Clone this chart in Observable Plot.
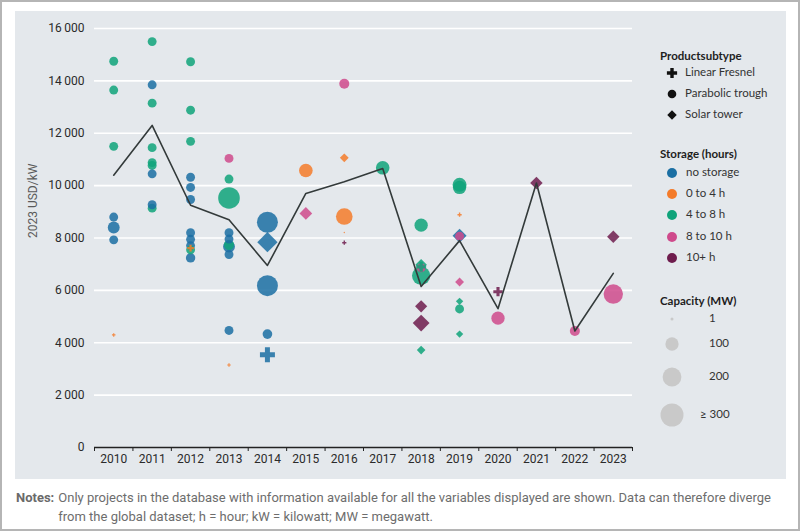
<!DOCTYPE html>
<html><head><meta charset="utf-8">
<script src="https://cdn.jsdelivr.net/npm/d3@7"></script>
<script src="https://cdn.jsdelivr.net/npm/@observablehq/plot@0.6"></script>
<style>
body{margin:0;background:#fff;}
#frame{position:relative;width:800px;height:531px;box-sizing:border-box;border:2px solid #b5b5b5;overflow:hidden;font-family:Lato,"Open Sans",sans-serif;background:#fff;}
#panel{position:absolute;left:13px;top:9px;width:771px;height:468px;background:#e4e8ec;}
#chart{position:absolute;left:0;top:0;}
#legend{position:absolute;left:0;top:0;width:771px;height:468px;pointer-events:none;}
.lt{position:absolute;font-weight:700;font-size:11.5px;color:#1e1e1e;white-space:nowrap;}
.li{position:absolute;font-size:11.5px;color:#333;white-space:nowrap;}
#notes{position:absolute;left:14px;top:486px;width:770px;font-size:13px;color:#6d6d6d;line-height:19px;display:flex;font-family:"Liberation Sans Narrow",Roboto,sans-serif;}
#notes b{font-weight:700;color:#6a6a6a;margin-right:4px;white-space:nowrap;}
</style></head>
<body>
<div id="frame">
  <div id="panel"><div id="chart"></div><svg id="legend" width="771" height="468"></svg></div>
  <div id="notes"><b>Notes:</b><span>Only projects in the database with information available for all the variables displayed are shown. Data can therefore diverge from the global dataset; h = hour; kW = kilowatt; MW = megawatt.</span></div>
</div>
<script>
// ---- data ----
const years = [2010,2011,2012,2013,2014,2015,2016,2017,2018,2019,2020,2021,2022,2023];
const avgCost = [10400,12300,9250,8700,6950,9700,10150,10650,6150,7900,5300,10100,4450,6650];
const yTicks = [0,2000,4000,6000,8000,10000,12000,14000,16000];

const subtypes = ["Linear Fresnel","Parabolic trough","Solar tower"];
const storageCats = ["no storage","0 to 4 h","4 to 8 h","8 to 10 h","10+ h"];
const storageColors = ["#1b6fa3","#f47b2a","#0fa37a","#cf4a8c","#6e1c4d"];
const capLegend = [1,100,200,300];
const capLegendText = ["1","100","200","\u2265 300"];

// points: year, cost (2023 USD/kW), subtype index, storage index, capacity (MW)
const ptYear = [
 2010,2010,2010,2010,2010,2010,2010,
 2011,2011,2011,2011,2011,2011,2011,2011,2011,
 2012,2012,2012,2012,2012,2012,2012,2012,2012,2012,2012,2012,
 2013,2013,2013,2013,2013,2013,2013,2013,2013,2013,
 2014,2014,2014,2014,2014,
 2015,2015,
 2016,2016,2016,2016,2016,
 2017,
 2018,2018,2018,2018,2018,2018,2018,2018,
 2019,2019,2019,2019,2019,2019,2019,2019,2019,
 2020,2020,
 2021,
 2022,
 2023,2023];
const ptCost = [
 14750,13650,11500,8800,8400,7930,4300,
 15500,13150,11450,10880,10770,9140,13850,10450,9270,
 14730,12880,11690,10320,9930,9470,8200,7950,7710,7550,7610,7240,
 11040,10250,9530,8200,7960,7670,7740,7370,4470,3150,
 8600,7840,6180,4330,3540,
 10580,8940,
 13890,11060,8820,8210,7820,
 10680,
 8490,6980,6560,6860,6900,5390,4750,3720,
 10030,9930,8890,8090,8070,6320,5580,5290,4330,
 5950,4940,
 10100,
 4450,
 8050,5860];
const ptType = [
 1,1,1,1,1,1,0,
 1,1,1,1,1,1,1,1,1,
 1,1,1,1,1,1,1,1,1,1,0,1,
 1,1,1,1,1,1,1,1,1,0,
 1,2,1,1,0,
 1,2,
 1,2,1,1,0,
 1,
 1,2,1,1,0,2,2,2,
 1,1,0,2,1,2,2,1,2,
 0,1,
 2,
 1,
 2,1];
const ptStorage = [
 2,2,2,0,0,0,1,
 2,2,2,2,2,2,0,0,0,
 2,2,2,0,0,0,0,0,0,2,1,0,
 3,2,2,0,0,0,2,0,0,1,
 0,0,0,0,0,
 1,3,
 3,1,1,1,4,
 2,
 2,2,2,3,2,4,4,2,
 2,2,1,0,3,3,2,2,2,
 4,3,
 4,
 3,
 4,3];
const ptCap = [
 45,45,45,45,80,45,5,
 45,45,45,45,45,45,45,45,45,
 45,45,45,45,45,45,45,45,45,45,18,50,
 45,45,265,45,45,80,60,45,45,5,
 250,190,250,53,90,
 105,74,
 57,36,157,1,7,
 105,
 100,61,190,45,40,68,130,34,
 111,100,7,90,45,36,25,45,25,
 35,100,
 71,
 57,
 71,213];

const points = ptYear.map((y,i)=>({year:y,cost:ptCost[i],type:subtypes[ptType[i]],storage:storageCats[ptStorage[i]],cap:ptCap[i]}));
const avg = years.map((y,i)=>({year:y,cost:avgCost[i]}));
const bounds = d3.range(years.length+1).map(i=>years[0]-0.5+i);

const fmt = d => d3.format(",")(d).replace(/,/g,"\u2009");
const axisFont = "Roboto, sans-serif";

const chart = Plot.plot({
  width: 625, height: 468,
  marginLeft: 79, marginRight: 8, marginTop: 17, marginBottom: 32,
  style: {background:"transparent", fontFamily: axisFont, fontSize:"12px", color:"#2a2a2a"},
  x: {type:"linear", domain:[years[0]-0.5, years[years.length-1]+0.5]},
  y: {domain:[0,16000]},
  r: {type:"sqrt", domain:[0,300], range:[0,11.5], clamp:true},
  color: {domain: storageCats, range: storageColors},
  symbol: {domain: subtypes, range:["cross","circle","diamond2"]},
  marks: [
    Plot.gridY({ticks: yTicks.slice(1), stroke:"#ffffff", strokeOpacity:1, strokeWidth:1.6}),
    Plot.axisY({ticks: yTicks, tickSize:0, tickPadding:10, tickFormat: fmt, label:null, fontSize:12}),
    Plot.axisX({ticks: years, tickSize:0, tickPadding:7, tickFormat: d=>String(d), label:null, fontSize:12}),
    Plot.axisX({ticks: bounds, tickSize:4, tickFormat: ()=>"", label:null, stroke:"#222"}),
    Plot.ruleY([0], {stroke:"#222", strokeWidth:1.3}),
    Plot.text(["2023 USD/kW"], {frameAnchor:"left", rotate:-90, dx:-61, fill:"#5a5a5a", fontSize:12}),
    Plot.dot(points, {x:"year", y:"cost", r:"cap", fill:"storage", symbol:"type", fillOpacity:0.85}),
    Plot.line(avg, {x:"year", y:"cost", stroke:"#333a3a", strokeWidth:1.6})
  ]
});
document.getElementById("chart").appendChild(chart);

// ---- legend ----
const lg = d3.select("#legend");
const panel = document.getElementById("panel");
const ox = 15, oy = 11; // panel offset in page
function title(txt, yc){ const d=document.createElement("div"); d.className="lt"; d.textContent=txt; d.style.left=(660-ox)+"px"; d.style.top=(yc-oy-8)+"px"; panel.appendChild(d); }
function item(txt, x, yc){ const d=document.createElement("div"); d.className="li"; d.textContent=txt; d.style.left=(x-ox)+"px"; d.style.top=(yc-oy-8)+"px"; panel.appendChild(d); }
title("Productsubtype", 57);
const symY=[73,94,115];
subtypes.forEach((s,i)=>{
  const sym = [d3.symbolCross,d3.symbolCircle,d3.symbolDiamond2][i];
  lg.append("path").attr("d", d3.symbol(sym, 58)()).attr("transform",`translate(${672-ox},${symY[i]-oy})`).attr("fill","#111");
  item(s, 685, symY[i]);
});
title("Storage (hours)", 155);
const stY=[173,194,215,237,258];
storageCats.forEach((s,i)=>{
  lg.append("circle").attr("cx",672-ox).attr("cy",stY[i]-oy).attr("r",5).attr("fill",storageColors[i]);
  item(s, 686, stY[i]);
});
title("Capacity (MW)", 302);
const rs = chart.scale("r");
const capY=[319,344,377,415];
capLegend.forEach((c,i)=>{
  const r = c===1 ? 1.5 : rs.apply(c);
  lg.append("circle").attr("cx",672-ox).attr("cy",capY[i]-oy).attr("r",r).attr("fill","#c9c9c9");
  item(capLegendText[i], i===3?700:709, capY[i]);
});
</script>
</body></html>
